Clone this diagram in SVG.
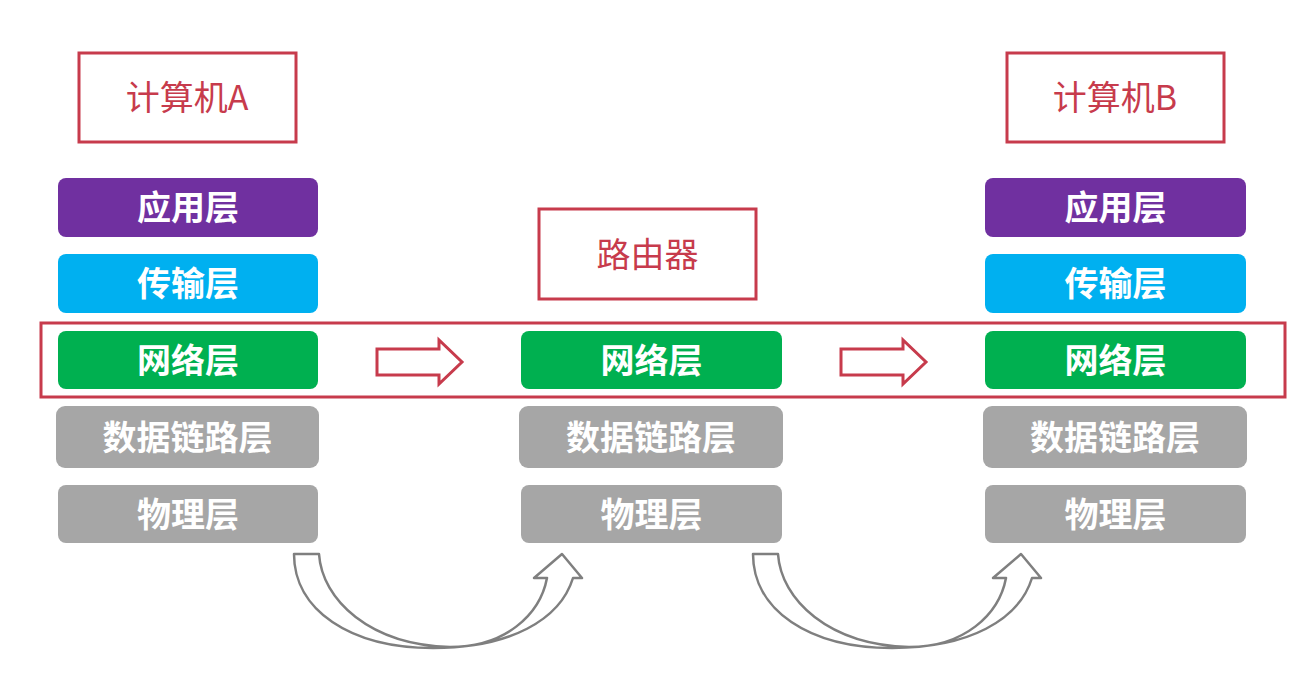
<svg xmlns="http://www.w3.org/2000/svg" width="1303" height="681" viewBox="0 0 1303 681">
<style>
.box{fill:#fff;stroke:#C73B4C;stroke-width:3}
.lbl{font-family:"Noto Sans CJK SC","Noto Sans",sans-serif;font-size:34px;fill:#C73B4C;text-anchor:middle;dominant-baseline:central}
.lay{font-family:"Noto Sans CJK SC","Noto Sans",sans-serif;font-size:34px;font-weight:bold;fill:#fff;text-anchor:middle;dominant-baseline:central}
.app{fill:#7030A0}.tra{fill:#00B0F0}.net{fill:#00B050}.gry{fill:#A6A6A6}
.blk{fill:#fff;stroke:#C73B4C;stroke-width:3;stroke-linejoin:miter}
.crv{fill:#fff;stroke:#7F7F7F;stroke-width:2.5;stroke-linejoin:round}
</style>
<rect width="1303" height="681" fill="#fff"/>
<g id="hostA">
<rect class="box" x="79" y="53" width="217" height="89"/>
<text class="lbl" x="187" y="95">计算机A</text>
<rect class="app" x="58" y="178" width="260" height="59" rx="8"/><text class="lay" x="188" y="205.5">应用层</text>
<rect class="tra" x="58" y="254" width="260" height="59" rx="8"/><text class="lay" x="188" y="281.5">传输层</text>
<rect class="net" x="58" y="331" width="260" height="58" rx="8"/><text class="lay" x="188" y="358">网络层</text>
<rect class="gry" x="56" y="406" width="263" height="62" rx="9"/><text class="lay" x="187.5" y="435">数据链路层</text>
<rect class="gry" x="58" y="485" width="260" height="58" rx="8"/><text class="lay" x="188" y="512">物理层</text>
</g>
<g id="router">
<rect class="box" x="539" y="209" width="217" height="90"/>
<text class="lbl" x="647.5" y="252">路由器</text>
<rect class="net" x="521" y="331" width="261" height="58" rx="8"/><text class="lay" x="651.5" y="358">网络层</text>
<rect class="gry" x="519" y="406" width="264" height="62" rx="9"/><text class="lay" x="651" y="435">数据链路层</text>
<rect class="gry" x="521" y="485" width="261" height="58" rx="8"/><text class="lay" x="651.5" y="512">物理层</text>
</g>
<g id="hostB">
<rect class="box" x="1007" y="53" width="217" height="89"/>
<text class="lbl" x="1115" y="95">计算机B</text>
<rect class="app" x="985" y="178" width="261" height="59" rx="8"/><text class="lay" x="1115.5" y="205.5">应用层</text>
<rect class="tra" x="985" y="254" width="261" height="59" rx="8"/><text class="lay" x="1115.5" y="281.5">传输层</text>
<rect class="net" x="985" y="331" width="261" height="58" rx="8"/><text class="lay" x="1115.5" y="358">网络层</text>
<rect class="gry" x="983" y="406" width="264" height="62" rx="9"/><text class="lay" x="1115" y="435">数据链路层</text>
<rect class="gry" x="985" y="485" width="261" height="58" rx="8"/><text class="lay" x="1115.5" y="512">物理层</text>
</g>
<g id="networkLayerFrame">
<rect x="41" y="323" width="1244" height="74" fill="none" stroke="#C73B4C" stroke-width="3"/>
</g>
<g id="connectors">
<path class="blk" d="M377,349 L439,349 L439,340 L462,362 L439,384 L439,375 L377,375 Z"/>
<path class="blk" d="M841,349 L903,349 L903,340 L926,362 L903,384 L903,375 L841,375 Z"/>
<path id="curveA" class="crv" d="M294,554 L319,554 C322,600 370,645 450,647 C505,647 540,615 547,578 L534,578 L562,554 L582,578 L573,578 C560,620 510,648 433,648 C350,648 294,610 294,554 Z"/>
<use href="#curveA" transform="translate(459,0)"/>
</g>
</svg>
